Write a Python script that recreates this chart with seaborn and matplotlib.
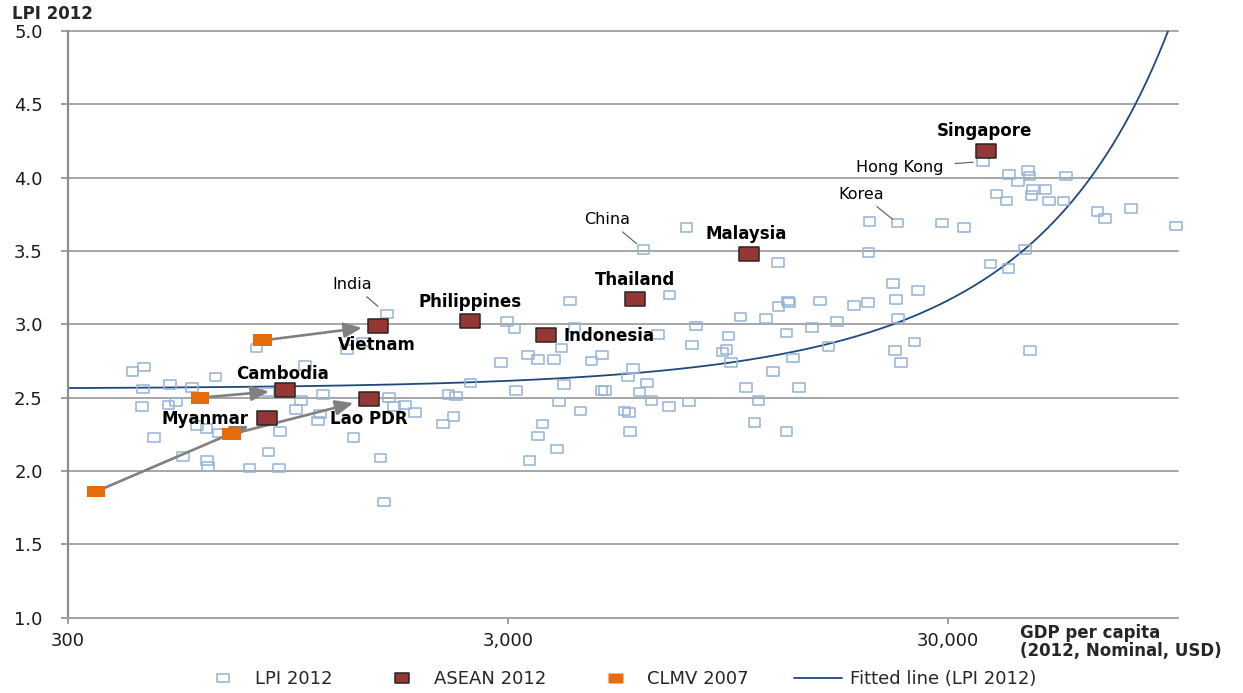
import numpy as np
import matplotlib
matplotlib.use("Agg")
import matplotlib.pyplot as plt
from matplotlib.path import Path
from matplotlib.lines import Line2D
from matplotlib.ticker import FixedLocator, FuncFormatter, NullLocator
import seaborn as sns

# ---- LPI 2012 against GDP per capita (2012, nominal USD), all countries ----
lpi_gdp = [421, 447, 445, 443, 471, 512, 508, 529, 574, 548, 589, 620, 621, 625,
           650, 663, 805, 776, 857, 905, 911, 856, 1039, 1015, 992, 1141, 1110,
           1123, 1292, 1405, 1337, 1540, 1570, 1609, 1655, 1753, 1847, 1593,
           2135, 2198, 2289, 2257, 2467, 2892, 2989, 3105, 3132, 3330, 3510,
           3817, 3971, 4029, 3918, 3594, 3510, 3882, 3360, 4158, 4251, 4386,
           4647, 4914, 4900, 4990, 5522, 5652, 5682, 5631, 5781, 6210, 5973,
           6361, 6978, 7736, 6099, 7640, 6987, 6589, 8038, 7857, 9223, 9419,
           9516, 9636, 10134, 11592, 10425, 11136, 10907, 12027, 12325, 12364,
           12985, 13071, 12888, 13347, 12888, 13776, 14727, 15382, 16786,
           16062, 18373, 19773, 19800, 19905, 23048, 22497, 22853, 23094,
           22767, 23461, 25190, 25683, 29076, 32622, 37504, 41200, 44890,
           46150, 36040, 41280, 45660, 45980, 55630, 43270, 46900, 50000,
           38690, 40780, 46460, 50970, 54940, 65640, 68250, 78150, 99000]
lpi_score = [2.68, 2.71, 2.56, 2.44, 2.23, 2.59, 2.45, 2.47, 2.57, 2.10, 2.31,
             2.29, 2.07, 2.03, 2.64, 2.26, 2.84, 2.02, 2.13, 2.02, 2.27, 2.54,
             2.72, 2.48, 2.42, 2.52, 2.34, 2.39, 2.83, 2.88, 2.23, 2.09, 1.79,
             2.50, 2.44, 2.45, 2.40, 3.07, 2.32, 2.52, 2.51, 2.37, 2.60, 2.74,
             3.02, 2.97, 2.55, 2.79, 2.76, 2.76, 2.84, 2.59, 2.47, 2.32, 2.24,
             2.15, 2.07, 3.16, 2.98, 2.41, 2.75, 2.79, 2.55, 2.55, 2.41, 2.40,
             2.27, 2.64, 2.70, 2.60, 2.54, 2.48, 2.44, 2.47, 3.51, 3.66, 3.20,
             2.93, 2.99, 2.86, 2.81, 2.83, 2.92, 2.74, 3.05, 3.04, 2.57, 2.48,
             2.33, 2.68, 3.42, 3.12, 3.16, 3.15, 2.94, 2.77, 2.27, 2.57, 2.98,
             3.16, 3.02, 2.85, 3.13, 3.15, 3.49, 3.70, 3.69, 3.28, 3.17, 3.04,
             2.82, 2.74, 2.88, 3.23, 3.69, 3.66, 3.41, 3.38, 3.51, 2.82, 4.11,
             4.02, 4.05, 4.01, 4.01, 3.97, 3.92, 3.92, 3.89, 3.84, 3.88, 3.84,
             3.84, 3.77, 3.72, 3.79, 3.67]

# Named reference countries among the LPI points
ref_names = ["India", "China", "Hong Kong", "Korea"]
ref_gdp = [1593, 6099, 36040, 23048]
ref_lpi = [3.07, 3.51, 4.11, 3.69]

# ---- ASEAN members, 2012 ----
asean_names = ["Singapore", "Malaysia", "Thailand", "Philippines", "Indonesia",
               "Vietnam", "Cambodia", "Lao PDR", "Myanmar"]
asean_gdp = [36700, 10590, 5850, 2460, 3660, 1520, 935, 1450, 850]
asean_lpi = [4.18, 3.48, 3.17, 3.02, 2.93, 2.99, 2.55, 2.49, 2.36]

# ---- CLMV countries, 2007 ----
clmv_names = ["Cambodia", "Lao PDR", "Myanmar", "Vietnam"]
clmv_gdp = [600, 706, 348, 831]
clmv_lpi = [2.50, 2.25, 1.86, 2.89]

# Exponential trend fitted to LPI 2012: LPI = A * exp(B * GDP)
FIT_A = 2.56
FIT_B = 7.05e-6

# Axis ticks
x_ticks = [300, 3000, 30000]
y_ticks = [1.0, 1.5, 2.0, 2.5, 3.0, 3.5, 4.0, 4.5, 5.0]

# ---------------------------------------------------------------------------
sns.set_style("white")
plt.rcParams["font.family"] = ["DejaVu Sans"]

C_LPI = "#95B3D7"
C_ASEAN = "#953735"
C_CLMV = "#E46C0A"
C_FIT = "#1F497D"
C_GRID = "#a6a6a6"


def rect_marker(ratio):
    """Closed rectangle marker, `ratio` wide for every 1 unit tall."""
    w, h = ratio / 2.0, 0.5
    return Path([(-w, -h), (w, -h), (w, h), (-w, h), (-w, -h)], closed=True)


m_lpi = rect_marker(1.37)
m_asean = rect_marker(1.40)
m_clmv = rect_marker(1.55)

fig = plt.figure(figsize=(12.43, 6.93), dpi=100)
ax = fig.add_axes([0.0545, 0.1087, 0.8932, 0.8466])

ax.set_xscale("log")
ax.set_xlim(300, 100000)
ax.set_ylim(1.0, 5.0)

# fitted line
fit_x = np.geomspace(300, 100000, 600)
fit_y = FIT_A * np.exp(FIT_B * fit_x)
sns.lineplot(x=fit_x, y=fit_y, ax=ax, color=C_FIT, lw=1.3, zorder=2,
             legend=False)

# LPI 2012 (open squares)
sns.scatterplot(x=lpi_gdp, y=lpi_score, ax=ax, marker=m_lpi, s=8.4 ** 2,
                facecolor="none", edgecolor=C_LPI, linewidth=1.1,
                zorder=3, clip_on=False, legend=False)

# arrows from 2007 to 2012 for CLMV
for name, gx, gy in zip(clmv_names, clmv_gdp, clmv_lpi):
    i = asean_names.index(name)
    shrink = 14 if name == "Myanmar" else 11.5
    ax.annotate("", xy=(asean_gdp[i], asean_lpi[i]), xytext=(gx, gy),
                arrowprops=dict(arrowstyle="-|>,head_length=0.9,head_width=0.38",
                                color="#808080", lw=1.9, shrinkA=0,
                                shrinkB=shrink, mutation_scale=12),
                zorder=4)

# CLMV 2007 (orange)
sns.scatterplot(x=clmv_gdp, y=clmv_lpi, ax=ax, marker=m_clmv, s=13.3 ** 2,
                color=C_CLMV, edgecolor="none", linewidth=0, zorder=5,
                legend=False)

# ASEAN 2012 (dark red)
sns.scatterplot(x=asean_gdp, y=asean_lpi, ax=ax, marker=m_asean, s=14.2 ** 2,
                color=C_ASEAN, edgecolor="#262626", linewidth=1.1, zorder=6,
                legend=False)

# ASEAN labels (offsets in points from the marker)
asean_offsets = {
    "Singapore": (-1.5, 14.6, "center"),
    "Malaysia": (-1.8, 14.2, "center"),
    "Thailand": (0.0, 14.2, "center"),
    "Philippines": (0.2, 13.7, "center"),
    "Indonesia": (12.5, -1.0, "left"),
    "Vietnam": (-0.7, -13.7, "center"),
    "Cambodia": (-1.9, 12.0, "center"),
    "Lao PDR": (0.0, -14.2, "center"),
    "Myanmar": (-13.5, -0.5, "right"),
}
for name, gx, gy in zip(asean_names, asean_gdp, asean_lpi):
    dx, dy, ha = asean_offsets[name]
    ax.annotate(name, xy=(gx, gy), xytext=(dx, dy), textcoords="offset points",
                ha=ha, va="center", fontsize=12, fontweight="bold",
                color="black", zorder=8)

# reference country labels with leader lines
ref_offsets = {
    "India": (-25.0, 21.6, 2, 8.5),
    "China": (-25.8, 21.8, 2, 6.5),
    "Hong Kong": (-59.8, -4.3, 6, 7.0),
    "Korea": (-26.1, 20.9, 2, 4.5),
}
for name, gx, gy in zip(ref_names, ref_gdp, ref_lpi):
    dx, dy, sa, sb = ref_offsets[name]
    ax.annotate(name, xy=(gx, gy), xytext=(dx, dy), textcoords="offset points",
                ha="center", va="center", fontsize=11.5, color="black",
                arrowprops=dict(arrowstyle="-", color="#595959", lw=0.8,
                                shrinkA=sa, shrinkB=sb),
                zorder=8)

# axes styling
ax.xaxis.set_major_locator(FixedLocator(x_ticks))
ax.xaxis.set_minor_locator(NullLocator())
ax.xaxis.set_major_formatter(FuncFormatter(lambda v, p: f"{v:,.0f}"))
ax.yaxis.set_major_locator(FixedLocator(y_ticks))
ax.yaxis.set_major_formatter(FuncFormatter(lambda v, p: f"{v:.1f}"))

ax.grid(False)
ax.yaxis.grid(True, color=C_GRID, lw=1.4, zorder=0)
for gl in ax.get_ygridlines():
    gl.set_clip_on(False)
ax.set_axisbelow(True)

for side in ("top", "right"):
    ax.spines[side].set_visible(False)
ax.spines["left"].set_color("#8c8c8c")
ax.spines["left"].set_linewidth(1.6)
ax.spines["bottom"].set_color(C_GRID)
ax.spines["bottom"].set_linewidth(1.4)

ax.tick_params(axis="y", which="major", length=5, width=1.2, color="#8c8c8c",
               pad=13, labelsize=13, labelcolor="#1a1a1a", left=True)
ax.tick_params(axis="x", which="major", length=4.3, width=1.2, color="#8c8c8c",
               pad=6, labelsize=13, labelcolor="#1a1a1a", bottom=True)
ax.set_xlabel("")
ax.set_ylabel("")

# axis titles
fig.text(12 / 1243, 1 - 14 / 693, "LPI 2012", ha="left", va="center",
         fontsize=12, fontweight="bold")
fig.text(1020 / 1243, 1 - 633 / 693, "GDP per capita", ha="left",
         va="center", fontsize=12, fontweight="bold")
fig.text(1020 / 1243, 1 - 651 / 693, "(2012, Nominal, USD)", ha="left",
         va="center", fontsize=12, fontweight="bold")

# legend
handles = [
    Line2D([], [], ls="none", marker=m_lpi, markersize=8.4,
           markerfacecolor="none", markeredgecolor=C_LPI, markeredgewidth=1.1),
    Line2D([], [], ls="none", marker=m_asean, markersize=10.6,
           markerfacecolor=C_ASEAN, markeredgecolor="#262626",
           markeredgewidth=1.1),
    Line2D([], [], ls="none", marker=m_clmv, markersize=10.8,
           markerfacecolor=C_CLMV, markeredgecolor="none"),
    Line2D([], [], color=C_FIT, lw=1.3),
]
labels = ["LPI 2012", "ASEAN 2012", "CLMV 2007", "Fitted line (LPI 2012)"]
fig.legend(handles, labels, loc="center left",
           bbox_to_anchor=(199 / 1243, 1 - 679 / 693), ncol=4, frameon=False,
           fontsize=13, handlelength=2.66, handletextpad=0.44,
           columnspacing=2.5, borderpad=0, borderaxespad=0)

fig.savefig("out.png", dpi=100)
